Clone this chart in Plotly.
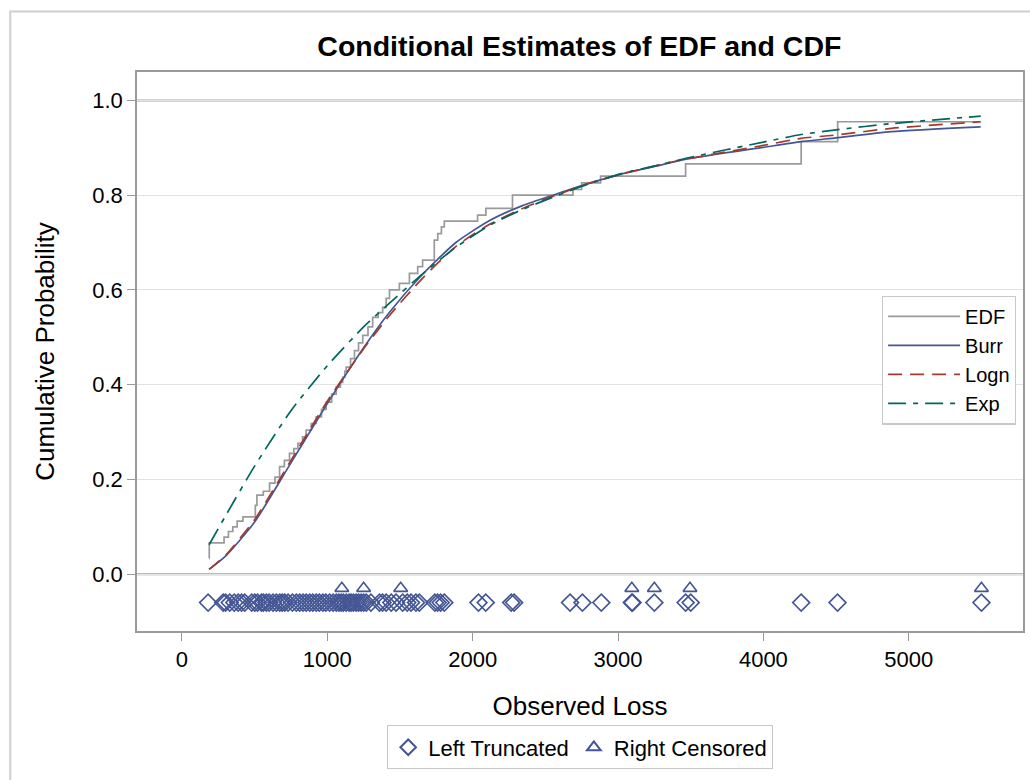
import plotly.graph_objects as go

# ---------------- data ----------------
# EDF step points (loss at which the step occurs, value after the step)
edf_x = [187, 188, 290, 320, 350, 380, 420, 466, 505, 516, 560, 603, 640, 672, 705, 740, 770,
         798, 830, 855, 890, 924, 960, 992, 1030, 1061, 1090, 1106, 1120, 1130, 1160, 1187,
         1215, 1244, 1280, 1312, 1350, 1381, 1405, 1428, 1496, 1565, 1622, 1656, 1736, 1760,
         1785, 1805, 2034, 2091, 2274, 2690, 2750, 2880, 3465, 4260, 4511, 5495]
edf_y = [0.034, 0.066, 0.078, 0.090, 0.100, 0.112, 0.121, 0.121, 0.145, 0.167, 0.175, 0.192,
         0.205, 0.227, 0.240, 0.255, 0.265, 0.276, 0.290, 0.304, 0.318, 0.332, 0.348, 0.363,
         0.380, 0.395, 0.405, 0.416, 0.428, 0.437, 0.455, 0.472, 0.488, 0.504, 0.522, 0.542,
         0.552, 0.563, 0.582, 0.600, 0.614, 0.635, 0.649, 0.663, 0.705, 0.719, 0.733, 0.745,
         0.758, 0.772, 0.800, 0.812, 0.826, 0.840, 0.866, 0.913, 0.955, 0.955]

# Fitted conditional CDF estimates
cdf_loss = [187, 300, 500, 750, 1000, 1250, 1428, 1656, 1885, 2114, 2343, 2572, 2800, 3029,
            3258, 3468, 4000, 4260, 4500, 4881, 5495]
burr = [0.010, 0.038, 0.110, 0.235, 0.360, 0.478, 0.553, 0.633, 0.700, 0.746, 0.778, 0.802,
        0.825, 0.845, 0.861, 0.876, 0.901, 0.913, 0.921, 0.934, 0.944]
logn = [0.010, 0.040, 0.115, 0.240, 0.365, 0.476, 0.546, 0.625, 0.692, 0.738, 0.772, 0.800,
        0.825, 0.845, 0.862, 0.876, 0.905, 0.920, 0.927, 0.941, 0.955]
expo = [0.062, 0.123, 0.228, 0.345, 0.440, 0.522, 0.572, 0.634, 0.690, 0.736, 0.770, 0.798,
        0.824, 0.846, 0.862, 0.878, 0.912, 0.928, 0.938, 0.951, 0.967]

# Observations marked along the bottom
left_truncated = [180, 284, 300, 329, 360, 387, 410, 432, 480, 501, 520, 547, 560, 581, 600,
                  627, 650, 673, 690, 707, 730, 760, 787, 810, 833, 855, 879, 900, 924, 945,
                  970, 990, 1016, 1040, 1062, 1080, 1096, 1110, 1130, 1150, 1164, 1180, 1199,
                  1215, 1233, 1250, 1268, 1300, 1359, 1380, 1405, 1440, 1473, 1519, 1550,
                  1576, 1610, 1633, 1740, 1759, 1780, 1805, 2040, 2090, 2265, 2285, 2670,
                  2755, 2885, 3095, 3100, 3250, 3465, 3500, 4260, 4510, 5500]
right_censored = [1100, 1250, 1505, 3095, 3250, 3495, 5500]
lt_level = -0.06
rc_level = -0.03

x_ticks = [0, 1000, 2000, 3000, 4000, 5000]
y_ticks = [0.0, 0.2, 0.4, 0.6, 0.8, 1.0]
ref_lines = [0.0, 1.0]

# ---------------- styles ----------------
FONT = "Liberation Sans, Arial, sans-serif"
C_EDF = "#9a9a9a"
C_BURR = "#445694"
C_LOGN = "#A23A2E"
C_EXP = "#01665E"
C_MARK = "#445694"

fig = go.Figure()

fig.add_trace(go.Scatter(x=edf_x, y=edf_y, mode="lines", name="EDF",
                         line=dict(color=C_EDF, width=1.7, shape="hv"), legend="legend"))
fig.add_trace(go.Scatter(x=cdf_loss, y=burr, mode="lines", name="Burr",
                         line=dict(color=C_BURR, width=1.7, shape="spline", smoothing=0.6),
                         legend="legend"))
fig.add_trace(go.Scatter(x=cdf_loss, y=logn, mode="lines", name="Logn",
                         line=dict(color=C_LOGN, width=1.7, dash="14px,8px", shape="spline",
                                   smoothing=0.6), legend="legend"))
fig.add_trace(go.Scatter(x=cdf_loss, y=expo, mode="lines", name="Exp",
                         line=dict(color=C_EXP, width=1.7, dash="18px,7px,5px,7px",
                                   shape="spline", smoothing=0.6), legend="legend"))

fig.add_trace(go.Scatter(x=left_truncated, y=[lt_level] * len(left_truncated), mode="markers",
                         name="Left Truncated", legend="legend2",
                         marker=dict(symbol="diamond-open", size=13, color=C_MARK,
                                     line=dict(width=1.6, color=C_MARK))))
fig.add_trace(go.Scatter(x=right_censored, y=[rc_level] * len(right_censored), mode="markers",
                         name="Right Censored", legend="legend2",
                         marker=dict(symbol="triangle-up-open", size=12, color=C_MARK,
                                     line=dict(width=1.6, color=C_MARK))))

for r in ref_lines:
    fig.add_hline(y=r, line=dict(color="#a4a4a4", width=2), layer="below")

fig.update_layout(
    width=1030, height=780,
    margin=dict(l=137, r=5, t=72, b=149),
    paper_bgcolor="white", plot_bgcolor="white",
    font=dict(family=FONT, size=22, color="#000000"),
    title=dict(text="<b>Conditional Estimates of EDF and CDF</b>", x=0.5625, xanchor="center",
               y=1 - 46 / 780, yanchor="middle", yref="container",
               font=dict(family=FONT, size=28.5, color="#000000")),
    xaxis=dict(range=[-309, 5786], tickvals=x_ticks, ticks="outside", ticklen=8,
               tickcolor="#9a9a9a", showgrid=False, zeroline=False, showline=True,
               linecolor="#9a9a9a", linewidth=1.5, mirror=True,
               tickfont=dict(size=22),
               title=dict(text="Observed Loss", font=dict(size=26), standoff=26)),
    yaxis=dict(range=[-0.12, 1.06], tickvals=y_ticks, tickformat=".1f", ticks="outside",
               ticklen=8, tickcolor="#9a9a9a", showgrid=True, gridcolor="#e2e2e2",
               gridwidth=1.2, zeroline=False, showline=True, linecolor="#9a9a9a",
               linewidth=1.5, mirror=True, tickfont=dict(size=22),
               title=dict(text="Cumulative Probability", font=dict(size=26), standoff=30)),
    legend=dict(x=0.992, xanchor="right", y=0.6, yanchor="top", bgcolor="white",
                bordercolor="#c8c8c8", borderwidth=1.2, font=dict(size=20),
                tracegroupgap=0, itemwidth=72),
    legend2=dict(orientation="h", x=0.5, xanchor="center", y=-0.208, yanchor="middle",
                 bgcolor="white", bordercolor="#c8c8c8", borderwidth=1.2,
                 font=dict(size=22), itemsizing="constant"),
    showlegend=True,
)

# outer frame around the whole graph
fig.add_shape(type="rect", xref="paper", yref="paper",
              x0=(10 - 137) / 888, x1=(1045 - 137) / 888,
              y0=(631 - 795) / 558.5, y1=(631 - 12) / 558.5,
              line=dict(color="#cfcfcf", width=2), layer="below")

fig.write_html("out.html")
